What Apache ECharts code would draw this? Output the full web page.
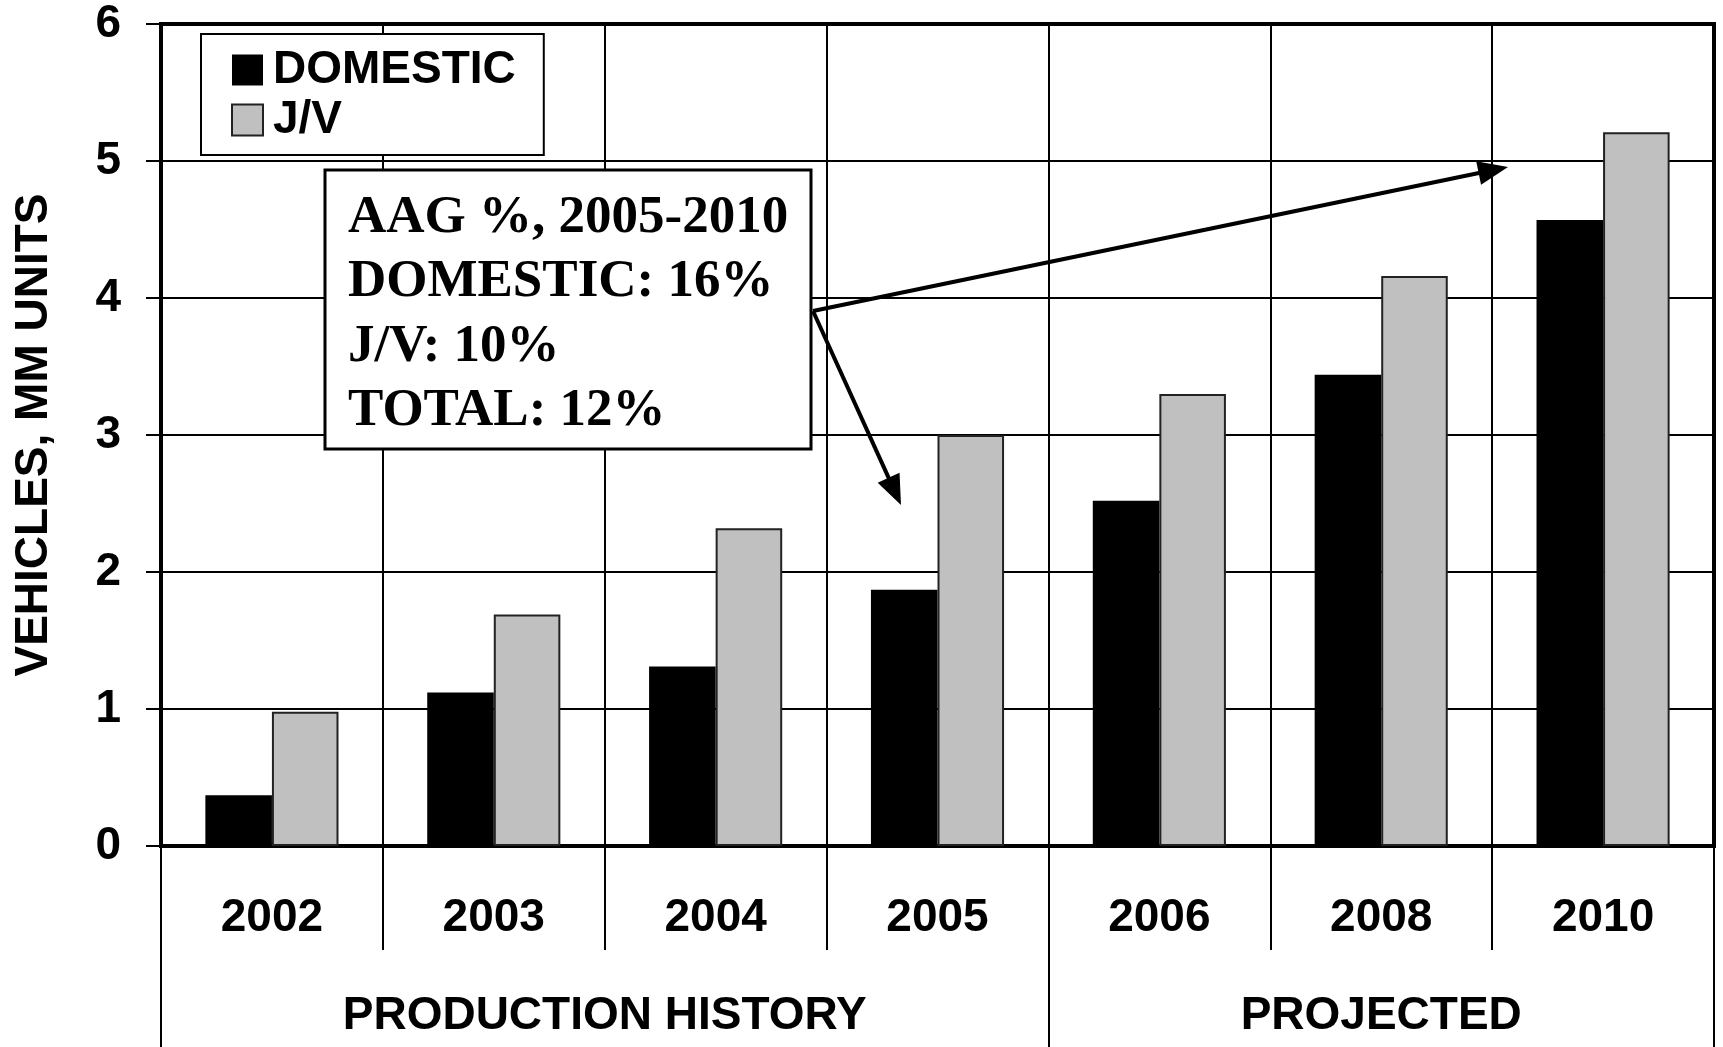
<!DOCTYPE html>
<html>
<head>
<meta charset="utf-8">
<script src="https://cdn.jsdelivr.net/npm/echarts@6/dist/echarts.min.js"></script>
<style>
  html, body { margin: 0; padding: 0; background: #fff; }
  #chart { width: 1723px; height: 1047px; }
</style>
</head>
<body>
<div id="chart"></div>
<script>
// Vehicle production, millions of units
const years = ['2002', '2003', '2004', '2005', '2006', '2008', '2010'];
const domestic = [0.37, 1.12, 1.31, 1.87, 2.52, 3.44, 4.57];
const jointVenture = [0.98, 1.69, 2.32, 3.00, 3.30, 4.16, 5.21];
const yTicks = [0, 1, 2, 3, 4, 5, 6];
const periodNames = ['PRODUCTION HISTORY', 'PROJECTED'];
// Period boundaries (in category units) and label centres
const periodBounds = [0, 4, 7];
const periodCentres = [2, 5.5];
const growthNotes = ['AAG %, 2005-2010', 'DOMESTIC: 16%', 'J/V: 10%', 'TOTAL: 12%'];

const SANS = '"Liberation Sans", Arial, sans-serif';
const SERIF = '"Liberation Serif", "Times New Roman", serif';

const chart = echarts.init(document.getElementById('chart'), null, { renderer: 'canvas' });

// arrow with a filled triangular head
function arrow(x1, y1, x2, y2) {
  const len = 30, half = 12;
  const dx = x2 - x1, dy = y2 - y1;
  const d = Math.sqrt(dx * dx + dy * dy);
  const ux = dx / d, uy = dy / d;
  const bx = x2 - ux * len, by = y2 - uy * len;
  return [
    { type: 'line', z: 20, shape: { x1: x1, y1: y1, x2: bx + ux * 4, y2: by + uy * 4 },
      style: { stroke: '#000', lineWidth: 4 } },
    { type: 'polygon', z: 20,
      shape: { points: [[x2, y2], [bx - uy * half, by + ux * half], [bx + uy * half, by - ux * half]] },
      style: { fill: '#000' } }
  ];
}

const noteBox = { x: 325, y: 170, w: 486, h: 279 };
const noteText = growthNotes.map((t, i) => ({
  type: 'text', z: 21, x: 348, y: 218 + i * 64.5,
  style: { text: t, font: 'bold 53px ' + SERIF, fill: '#000', verticalAlign: 'middle', align: 'left' }
}));

chart.setOption({
  animation: false,
  backgroundColor: '#fff',
  grid: {
    left: 161, right: 9, top: 24, bottom: 201,
    show: true, borderColor: '#000', borderWidth: 4, backgroundColor: 'transparent'
  },
  legend: {
    left: 201, top: 34, orient: 'vertical',
    data: ['DOMESTIC', 'J/V'],
    selectedMode: false,
    backgroundColor: '#fff', borderColor: '#000', borderWidth: 2,
    padding: [13, 28, 12, 30],
    itemGap: 4, itemWidth: 31, itemHeight: 31,
    icon: 'rect',
    textStyle: { fontFamily: SANS, fontWeight: 'bold', fontSize: 46, color: '#000', lineHeight: 46, padding: [0, 0, 0, 5] }
  },
  xAxis: [
    {
      type: 'category', data: years, position: 'bottom',
      axisLine: { show: true, lineStyle: { color: '#000', width: 4 } },
      axisTick: { show: true, interval: 0, length: 104, lineStyle: { color: '#000', width: 2 } },
      axisLabel: { interval: 0, margin: 49, fontFamily: SANS, fontWeight: 'bold', fontSize: 46, color: '#000' },
      splitLine: { show: true, interval: 0, lineStyle: { color: '#000', width: 2 } }
    },
    {
      type: 'value', min: 0, max: 7, position: 'bottom',
      axisLine: { show: false },
      axisTick: { show: true, customValues: periodBounds, length: 201, lineStyle: { color: '#000', width: 2 } },
      axisLabel: {
        customValues: periodCentres, margin: 147,
        fontFamily: SANS, fontWeight: 'bold', fontSize: 46, color: '#000',
        formatter: v => periodNames[periodCentres.indexOf(v)]
      },
      splitLine: { show: false }
    }
  ],
  yAxis: {
    type: 'value', min: yTicks[0], max: yTicks[yTicks.length - 1], interval: 1,
    name: 'VEHICLES, MM UNITS', nameLocation: 'middle', nameRotate: 90, nameGap: 104,
    nameTextStyle: { fontFamily: SANS, fontWeight: 'bold', fontSize: 46, color: '#000' },
    axisLine: { show: true, lineStyle: { color: '#000', width: 4 } },
    axisTick: { show: true, length: 15, lineStyle: { color: '#000', width: 2 } },
    axisLabel: { margin: 40, fontFamily: SANS, fontWeight: 'bold', fontSize: 46, color: '#000' },
    splitLine: { show: true, lineStyle: { color: '#000', width: 2 } }
  },
  series: [
    {
      name: 'DOMESTIC', type: 'bar', xAxisIndex: 0, data: domestic,
      barGap: '0%', barCategoryGap: '40%',
      itemStyle: { color: '#000', borderColor: '#000', borderWidth: 0 }
    },
    {
      name: 'J/V', type: 'bar', xAxisIndex: 0, data: jointVenture,
      barGap: '0%', barCategoryGap: '40%',
      itemStyle: { color: '#c0c0c0', borderColor: '#222', borderWidth: 2 }
    }
  ],
  graphic: [
    { type: 'rect', z: 19, shape: { x: noteBox.x, y: noteBox.y, width: noteBox.w, height: noteBox.h },
      style: { fill: '#fff', stroke: '#000', lineWidth: 3 } },
    ...noteText,
    ...arrow(813, 311, 1508, 167),
    ...arrow(813, 311, 901, 505)
  ]
});
</script>
</body>
</html>
